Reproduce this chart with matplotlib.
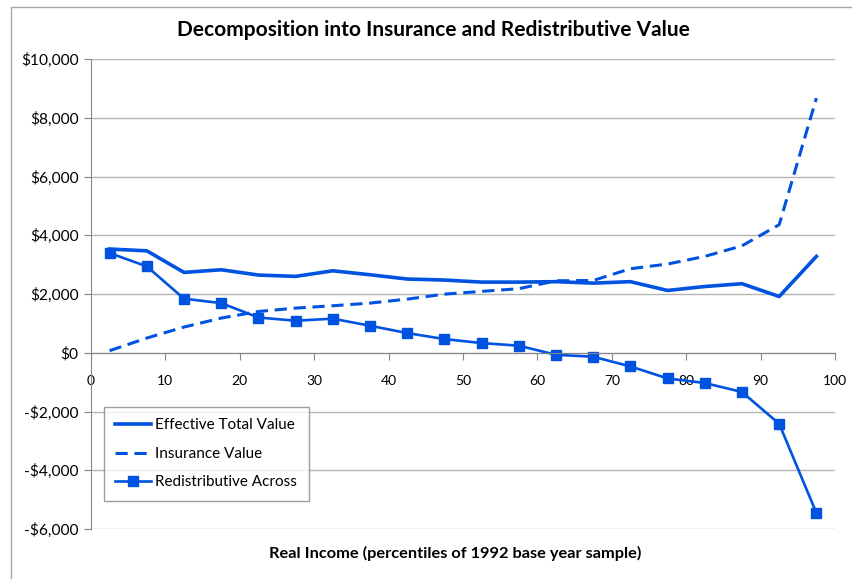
import matplotlib.pyplot as plt
from matplotlib.patches import Rectangle

# percentile mid-points
percentiles = [2.5, 7.5, 12.5, 17.5, 22.5, 27.5, 32.5, 37.5, 42.5, 47.5,
               52.5, 57.5, 62.5, 67.5, 72.5, 77.5, 82.5, 87.5, 92.5, 97.5]

effective_total = [3530, 3470, 2735, 2825, 2645, 2600, 2790, 2655, 2510, 2475,
                   2405, 2405, 2420, 2370, 2420, 2120, 2255, 2350, 1915, 3280]

insurance = [70, 500, 875, 1180, 1405, 1520, 1600, 1690, 1825, 1995,
             2090, 2180, 2450, 2460, 2860, 3020, 3280, 3640, 4360, 8670]

redistributive = [3395, 2940, 1840, 1690, 1200, 1090, 1160, 920, 670, 465,
                  330, 240, -70, -135, -465, -875, -1030, -1335, -2420, -5455]

y_ticks = [-6000, -4000, -2000, 0, 2000, 4000, 6000, 8000, 10000]
x_ticks = [0, 10, 20, 30, 40, 50, 60, 70, 80, 90, 100]

BLUE = '#0052E0'
FONT = ['Lato', 'DejaVu Sans']


def money(v):
    if v < 0:
        return "-${:,}".format(-v)
    return "${:,}".format(v)


def main():
    plt.rcParams['font.family'] = FONT

    fig = plt.figure(figsize=(8.52, 5.79), dpi=100)
    ax = fig.add_axes([91 / 852, 1 - 529 / 579, (835 - 91) / 852, (529 - 59) / 579])

    # outer chart frame
    fig.patches.append(Rectangle((11 / 852, -0.05), 1.2, 1 - 7 / 579 + 0.05,
                                 transform=fig.transFigure, fill=False,
                                 edgecolor='#A6A6A6', linewidth=1.0))

    ax.plot(percentiles, effective_total, color=BLUE, linewidth=2.6,
            label="Effective Total Value")
    ax.plot(percentiles, insurance, color=BLUE, linewidth=2.2, dashes=(4, 2.2),
            label="Insurance Value")
    ax.plot(percentiles, redistributive, color=BLUE, linewidth=1.9, marker='s',
            markersize=7.5, label="Redistributive Across")

    ax.set_xlim(0, 100)
    ax.set_ylim(-6000, 10000)

    ax.set_yticks(y_ticks)
    ax.set_yticklabels([money(v) for v in y_ticks], fontsize=11.2)
    ax.set_xticks(x_ticks)
    ax.set_xticklabels([str(v) for v in x_ticks], fontsize=11.2)

    # axis crossing at zero like excel
    ax.spines['bottom'].set_position(('data', 0))
    ax.spines['top'].set_visible(False)
    ax.spines['right'].set_visible(False)
    ax.spines['left'].set_color('#868686')
    ax.spines['bottom'].set_color('#868686')
    ax.tick_params(axis='x', direction='out', length=5, color='#868686', pad=11)
    ax.tick_params(axis='y', direction='out', length=5, color='#868686', pad=4)
    ax.grid(axis='y', color='#B4B4B4', linewidth=1.0)
    ax.set_axisbelow(True)

    fig.text(433 / 852, 1 - 30 / 579, "Decomposition into Insurance and Redistributive Value",
             ha='center', va='center', fontsize=15, fontweight='bold')
    fig.text(455 / 852, 1 - 553 / 579, "Real Income (percentiles of 1992 base year sample)",
             ha='center', va='center', fontsize=11.8, fontweight='bold')

    leg = ax.legend(loc='upper left', bbox_to_anchor=((104 - 91) / 744, (529 - 407) / 470),
                    borderaxespad=0, fontsize=11, frameon=True, fancybox=False,
                    handlelength=2.3, labelspacing=0.95, borderpad=0.75,
                    handletextpad=0.3)
    leg.get_frame().set_edgecolor('#868686')
    leg.get_frame().set_linewidth(1.0)

    fig.savefig("out.png", dpi=100)


main()
